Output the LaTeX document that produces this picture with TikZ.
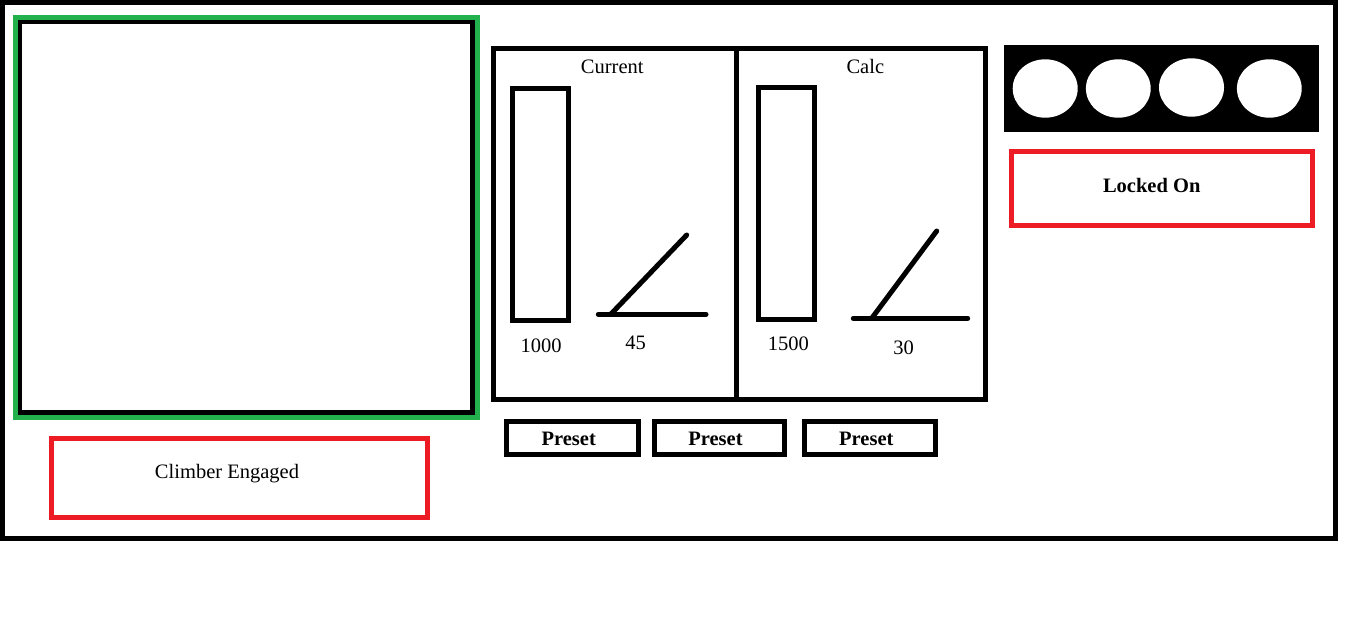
\documentclass[tikz,border=0pt]{standalone}
\usepackage{fontspec}
\setmainfont{Liberation Serif}
\definecolor{paintgreen}{HTML}{22B14C}
\definecolor{paintred}{HTML}{ED1C24}
\tikzset{
  frame/.style={draw=black,line width=5pt},
  greenframe/.style={draw=paintgreen,line width=5pt},
  redframe/.style={draw=paintred,line width=5pt},
  gauge/.style={draw=black,line width=5pt,line cap=round},
  lbl/.style={anchor=base,inner sep=0pt,font=\fontsize{20.5}{24}\selectfont},
  blbl/.style={lbl,font=\fontsize{20.5}{24}\selectfont\bfseries},
  lamp/.style={fill=white,draw=none}
}
\begin{document}
\begin{tikzpicture}[x=1pt,y=-1pt]
\useasboundingbox[fill=white] (0,0) rectangle (1360,624);
% outer frame
\draw[frame] (2.5,2) rectangle (1335.5,538);
% camera view
\draw[greenframe] (15.5,17.5) rectangle (477.5,417);
\draw[black,line width=4.5pt] (20,22) rectangle (472.5,412.3);
% climber indicator
\draw[redframe] (51.5,438.5) rectangle (427.5,517.5);
\node[lbl] (climber) at (227,478.3) {Climber Engaged};
% middle panel
\draw[frame] (493.5,48.5) rectangle (985.8,399.2);
\draw[frame] (736.8,48.5) -- (736.8,401.5);
\node[lbl] (current) at (612.3,73.3) {Current};
\node[lbl] (calc) at (865.3,73.3) {Calc};
% bars
\draw[frame] (512.5,88.5) rectangle (568.5,320.2);
\draw[frame] (758.5,87.5) rectangle (814.2,319.2);
\node[lbl] (v1000) at (541.2,352.3) {1000};
\node[lbl] (v1500) at (788.3,350.7) {1500};
% angle gauges
\draw[gauge] (598.3,314.3) -- (706,314.3);
\draw[gauge] (610.7,314.3) -- (686.7,235);
\node[lbl] (a45) at (635.7,349) {45};
\draw[gauge] (853.3,318.3) -- (967.7,318.3);
\draw[gauge] (871.7,318.3) -- (936.7,231);
\node[lbl] (a30) at (903.7,354) {30};
% presets
\draw[frame] (506.8,421.8) rectangle (638.2,454.8);
\draw[frame] (654.2,421.8) rectangle (784.8,454.8);
\draw[frame] (804.8,421.8) rectangle (935.8,454.8);
\node[blbl] (p1) at (568.7,445.7) {Preset};
\node[blbl] (p2) at (715.5,445.7) {Preset};
\node[blbl] (p3) at (866.3,445.7) {Preset};
% lamp strip
\fill[black] (1004,45) rectangle (1319,131.7);
\fill[lamp] (1045.2,88.5) ellipse [x radius=32.5,y radius=29.2];
\fill[lamp] (1118.3,88.5) ellipse [x radius=32.4,y radius=29.2];
\fill[lamp] (1191.5,87.5) ellipse [x radius=32.5,y radius=29.2];
\fill[lamp] (1269.3,88.5) ellipse [x radius=32.4,y radius=29.2];
% locked on
\draw[redframe] (1011.5,151.5) rectangle (1312.5,225.2);
\node[blbl] (locked) at (1151.7,192.3) {Locked On};
\end{tikzpicture}
\end{document}
